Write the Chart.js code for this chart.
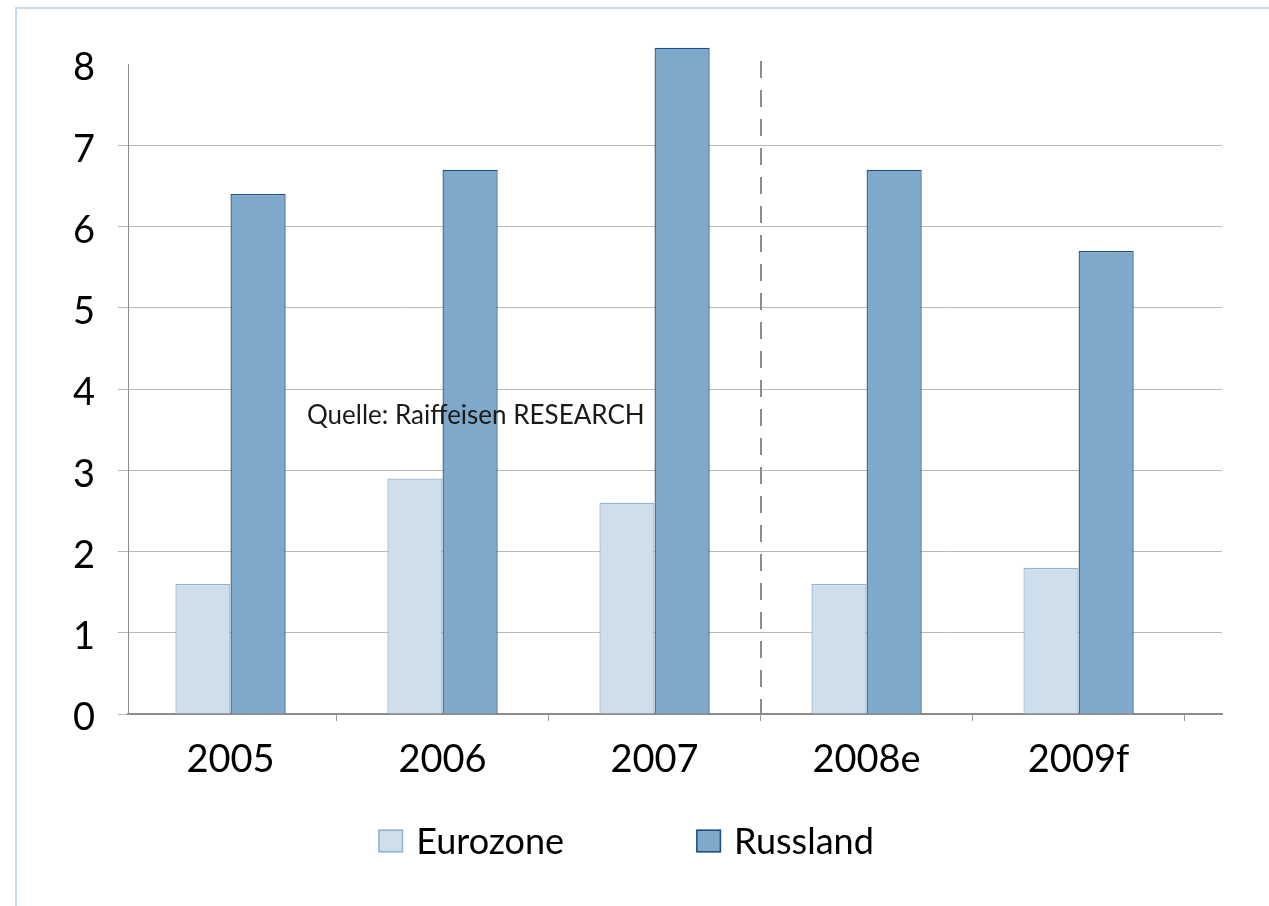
<!DOCTYPE html>
<html><head><meta charset="utf-8">
<script src="https://cdn.jsdelivr.net/npm/chart.js@4"></script>
<style>
html,body{margin:0;padding:0;background:#fff;}
#wrap{position:relative;width:1269px;height:906px;overflow:hidden;background:#fff;}
#frame{position:absolute;left:15px;top:7px;width:1400px;height:1000px;border-left:2px solid #c6daec;border-top:2px solid #c6daec;}
canvas{position:absolute;left:0;top:0;}
</style></head><body>
<div id="wrap"><div id="frame"></div><canvas id="c" width="1269" height="906"></canvas></div>
<script>
const categories = ['2005', '2006', '2007', '2008e', '2009f'];
const eurozone = [1.6, 2.9, 2.6, 1.6, 1.8];
const russland = [6.4, 6.7, 8.2, 6.7, 5.7];
const yTickValues = [0, 1, 2, 3, 4, 5, 6, 7, 8];
const seriesNames = ['Eurozone', 'Russland'];
const sourceNote = 'Quelle: Raiffeisen RESEARCH';
const forecastAfterIndex = 2; // dashed divider between 2007 and 2008e

const FONT = 'Lato, "Liberation Sans", sans-serif';

const extras = {
  id: 'extras',
  afterDatasetsDraw(chart) {
    const ctx = chart.ctx;
    const x = chart.scales.x.getPixelForValue(forecastAfterIndex + 0.5);
    const yTop = chart.scales.y.getPixelForValue(yTickValues[yTickValues.length - 1]) - 3;
    const yBot = chart.scales.y.getPixelForValue(0);
    ctx.save();
    ctx.strokeStyle = '#8c8c8c';
    ctx.lineWidth = 2;
    ctx.setLineDash([17, 12]);
    ctx.beginPath();
    ctx.moveTo(Math.round(x), yTop);
    ctx.lineTo(Math.round(x), yBot);
    ctx.stroke();
    ctx.restore();
  },
  afterDraw(chart) {
    const ctx = chart.ctx;
    ctx.save();
    // source note
    ctx.font = '26px ' + FONT;
    ctx.fillStyle = '#1a1a1a';
    ctx.textBaseline = 'middle';
    ctx.textAlign = 'left';
    ctx.fillText(sourceNote, 307, 416);
    // legend
    ctx.font = '36px ' + FONT;
    const box = 25, gap = 13, between = 132;
    const ds = chart.data.datasets;
    const widths = ds.map(d => box + gap + ctx.measureText(d.label).width);
    const total = widths.reduce((a, b) => a + b, 0) + between * (ds.length - 1);
    let x = 626 - total / 2;
    const cy = 841;
    ds.forEach((d, i) => {
      ctx.fillStyle = d.backgroundColor;
      ctx.fillRect(x, cy - 11.5, box, 23);
      ctx.strokeStyle = d.borderColor;
      ctx.lineWidth = 1.5;
      ctx.strokeRect(x + 0.75, cy - 11.5 + 0.75, box - 1.5, 21.5);
      ctx.fillStyle = '#000';
      ctx.textBaseline = 'middle';
      ctx.fillText(d.label, x + box + gap, cy + 1);
      x += widths[i] + between;
    });
    ctx.restore();
  }
};

new Chart(document.getElementById('c'), {
  type: 'bar',
  data: {
    labels: categories,
    datasets: [
      { label: seriesNames[0], data: eurozone, backgroundColor: '#cfdeeb', borderColor: '#8fb3d3', borderWidth: 1.3, clip: false },
      { label: seriesNames[1], data: russland, backgroundColor: '#7fa9ca', borderColor: '#1f4f7e', borderWidth: 1.3, clip: false }
    ]
  },
  options: {
    responsive: false,
    animation: false,
    devicePixelRatio: 1,
    layout: { padding: { top: 64, right: 47, bottom: 0, left: 0 } },
    categoryPercentage: 0.52,
    barPercentage: 1.0,
    plugins: { legend: { display: false }, tooltip: { enabled: false } },
    scales: {
      x: {
        offset: true,
        afterBuildTicks: (s) => { s._valueRange = 5.16; s._startValue = -0.4835; },
        afterFit: (s) => { s.height = 192; },
        grid: { offset: true, drawOnChartArea: false, tickLength: 7, color: '#9a9a9a', lineWidth: 1 },
        border: { color: '#8c8c8c', width: 2 },
        ticks: { color: '#000', padding: 16, font: { family: FONT, size: 38 } }
      },
      y: {
        min: 0, max: 8,
        afterFit: (s) => { s.width = 128; },
        afterBuildTicks: (s) => { s.ticks = yTickValues.map(v => ({ value: v })); },
        grid: {
          color: (c) => c.tick && c.tick.value === 8 ? 'rgba(0,0,0,0)' : '#b8b8b8',
          tickLength: 10, lineWidth: 1
        },
        border: { color: '#8c8c8c', width: 1 },
        ticks: { color: '#000', padding: 23, labelOffset: 4, font: { family: FONT, size: 38 } }
      }
    }
  },
  plugins: [extras]
});
</script>
</body></html>
